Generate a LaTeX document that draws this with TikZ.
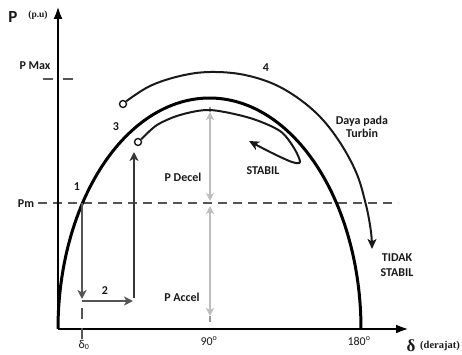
\documentclass[tikz,border=0pt]{standalone}
\usepackage{fontspec}
\setmainfont{Carlito}
\newfontfamily\serifb{Liberation Serif}
\usetikzlibrary{arrows.meta}
\definecolor{dg}{RGB}{85,85,85}
\definecolor{vdg}{RGB}{55,55,55}
\definecolor{lg}{RGB}{190,190,190}
\definecolor{ink}{RGB}{25,25,25}
\tikzset{
  lbl/.style={font=\bfseries\fontsize{12}{14}\selectfont, inner sep=0pt, text=ink},
  tick/.style={font=\fontsize{12}{14}\selectfont, inner sep=0pt, text=ink},
  axisline/.style={line width=2.6pt, black},
  bigtip/.style={-{Latex[length=13pt,width=9pt]}},
  darrow/.style={line width=2pt, dg, -{Stealth[length=9pt,width=9pt,inset=2.5pt]}},
  lgarrow/.style={line width=2.4pt, lg, {Stealth[length=8pt,width=8pt,inset=2pt]}-{Stealth[length=8pt,width=8pt,inset=2pt]}},
  thinarc/.style={line width=2pt, ink},
  ring/.style={circle, draw=ink, line width=1.4pt, inner sep=0pt, minimum size=7pt, fill=white},
  pmdash/.style={line width=1.5pt, dg, dash pattern=on 9pt off 6pt},
}
\begin{document}
\begin{tikzpicture}[x=1pt,y=-1pt]
\useasboundingbox (0,0) rectangle (462,355);
% coordinates
\coordinate (O) at (58,329);
\coordinate (ytip) at (58,6);
\coordinate (xtip) at (409,329);
\coordinate (pmL) at (38,203);
\coordinate (pmR) at (398,203);
\coordinate (pmaxL) at (43,79);
\coordinate (pmaxR) at (73,79);
\coordinate (p1) at (82,203);
\coordinate (p1b) at (82,299);
\coordinate (h1) at (82,301);
\coordinate (h2) at (133,301);
\coordinate (d0a) at (82,308);
\coordinate (d0b) at (82,339);
\coordinate (v1) at (134,298);
\coordinate (v2) at (134,152);
\coordinate (a90t) at (210,107);
\coordinate (a90u) at (210,112);
\coordinate (a90m1) at (210,201);
\coordinate (a90m2) at (210,206);
\coordinate (a90l) at (210,316);
\coordinate (a90b) at (210,322);
\coordinate (e4) at (372,249);
\coordinate (e3) at (249,141);

% Pm and Pmax dashed lines
\draw[pmdash] (pmL) -- (pmR);
\draw[line width=1.5pt, dg, dash pattern=on 10pt off 10pt] (pmaxL) -- (pmaxR);

% power angle curve (semi-ellipse)
\draw[line width=3pt, black] plot[domain=180:0, samples=120] ({209.5+151.5*cos(\x)}, {329-231*sin(\x)});

% axes
\draw[axisline, bigtip] (O) -- (ytip);
\draw[axisline, bigtip] (O) -- (xtip);

% grey arrows
\draw[darrow] (p1) -- (p1b);
\draw[darrow] (h1) -- (h2);
\draw[line width=1.5pt, dg, dash pattern=on 11pt off 9pt] (d0a) -- (d0b);
\draw[darrow, vdg] (v1) -- (v2);

% light grey arrows at 90 degrees
\draw[line width=1.5pt, lg!80!black] (a90t) -- (a90u);
\draw[lgarrow] (a90u) -- (a90m1);
\draw[lgarrow] (a90m2) -- (a90l);
\draw[line width=1.5pt, lg!80!black] (a90l) -- (a90b);

% rings
\node[ring] (c4) at (123,104) {};
\node[ring] (c3) at (138,142) {};

% outer arc (4)
\draw[thinarc, -{Stealth[length=10pt,width=9pt,inset=2.5pt]}] plot[smooth, tension=0.6] coordinates {(c4.40) (150,86) (180,76) (210,72) (245,75) (280,87) (313,110) (337,138) (356,172) (366,205) (371,232) (e4)};

% inner arc (3 -> STABIL)
\draw[thinarc, -{Stealth[length=10pt,width=9pt,inset=2.5pt]}] plot[smooth, tension=0.5] coordinates {(c3.40) (157,125) (180,115) (210,110) (250,118) (280,131) (294,148) (300,162) (292,162) (272,153) (e3)};

% labels
\node[inner sep=0pt, text=ink, font=\bfseries\fontsize{17}{18}\selectfont] (P) at (13,17) {P};
\node[inner sep=0pt, text=ink, font=\serifb\bfseries\fontsize{9.5}{11}\selectfont] (pu) at (38,15) {(p.u)};
\node[lbl] (pmax) at (35,66) {P Max};
\node[lbl] (pm) at (26,204) {Pm};
\node[lbl] (n1) at (77,187) {1};
\node[lbl] (n2) at (105,291) {2};
\node[lbl] (n3) at (116,127) {3};
\node[lbl] (n4) at (266,68) {4};
\node[lbl] (dec) at (183,177) {P Decel};
\node[lbl] (st1) at (263,171) {STABIL};
\node[lbl] (acc) at (182,297) {P Accel};
\node[lbl, align=center] (daya) at (362,127) {Daya pada\\[-1pt]Turbin};
\node[lbl, align=center] (tidak) at (397,265) {TIDAK\\[1pt]STABIL};
\node[tick] (d0) at (84,345) {δ\textsubscript{0}};
\node[tick] (t90) at (209,341) {90\textsuperscript{o}};
\node[tick] (t180) at (359,341) {180\textsuperscript{o}};
\node[inner sep=0pt, text=ink, font=\serifb\bfseries\fontsize{17}{18}\selectfont] (dl) at (411,346) {δ};
\node[inner sep=0pt, text=ink, font=\serifb\bfseries\fontsize{10.5}{12}\selectfont] (der) at (440,346) {(derajat)};
\end{tikzpicture}
\end{document}
